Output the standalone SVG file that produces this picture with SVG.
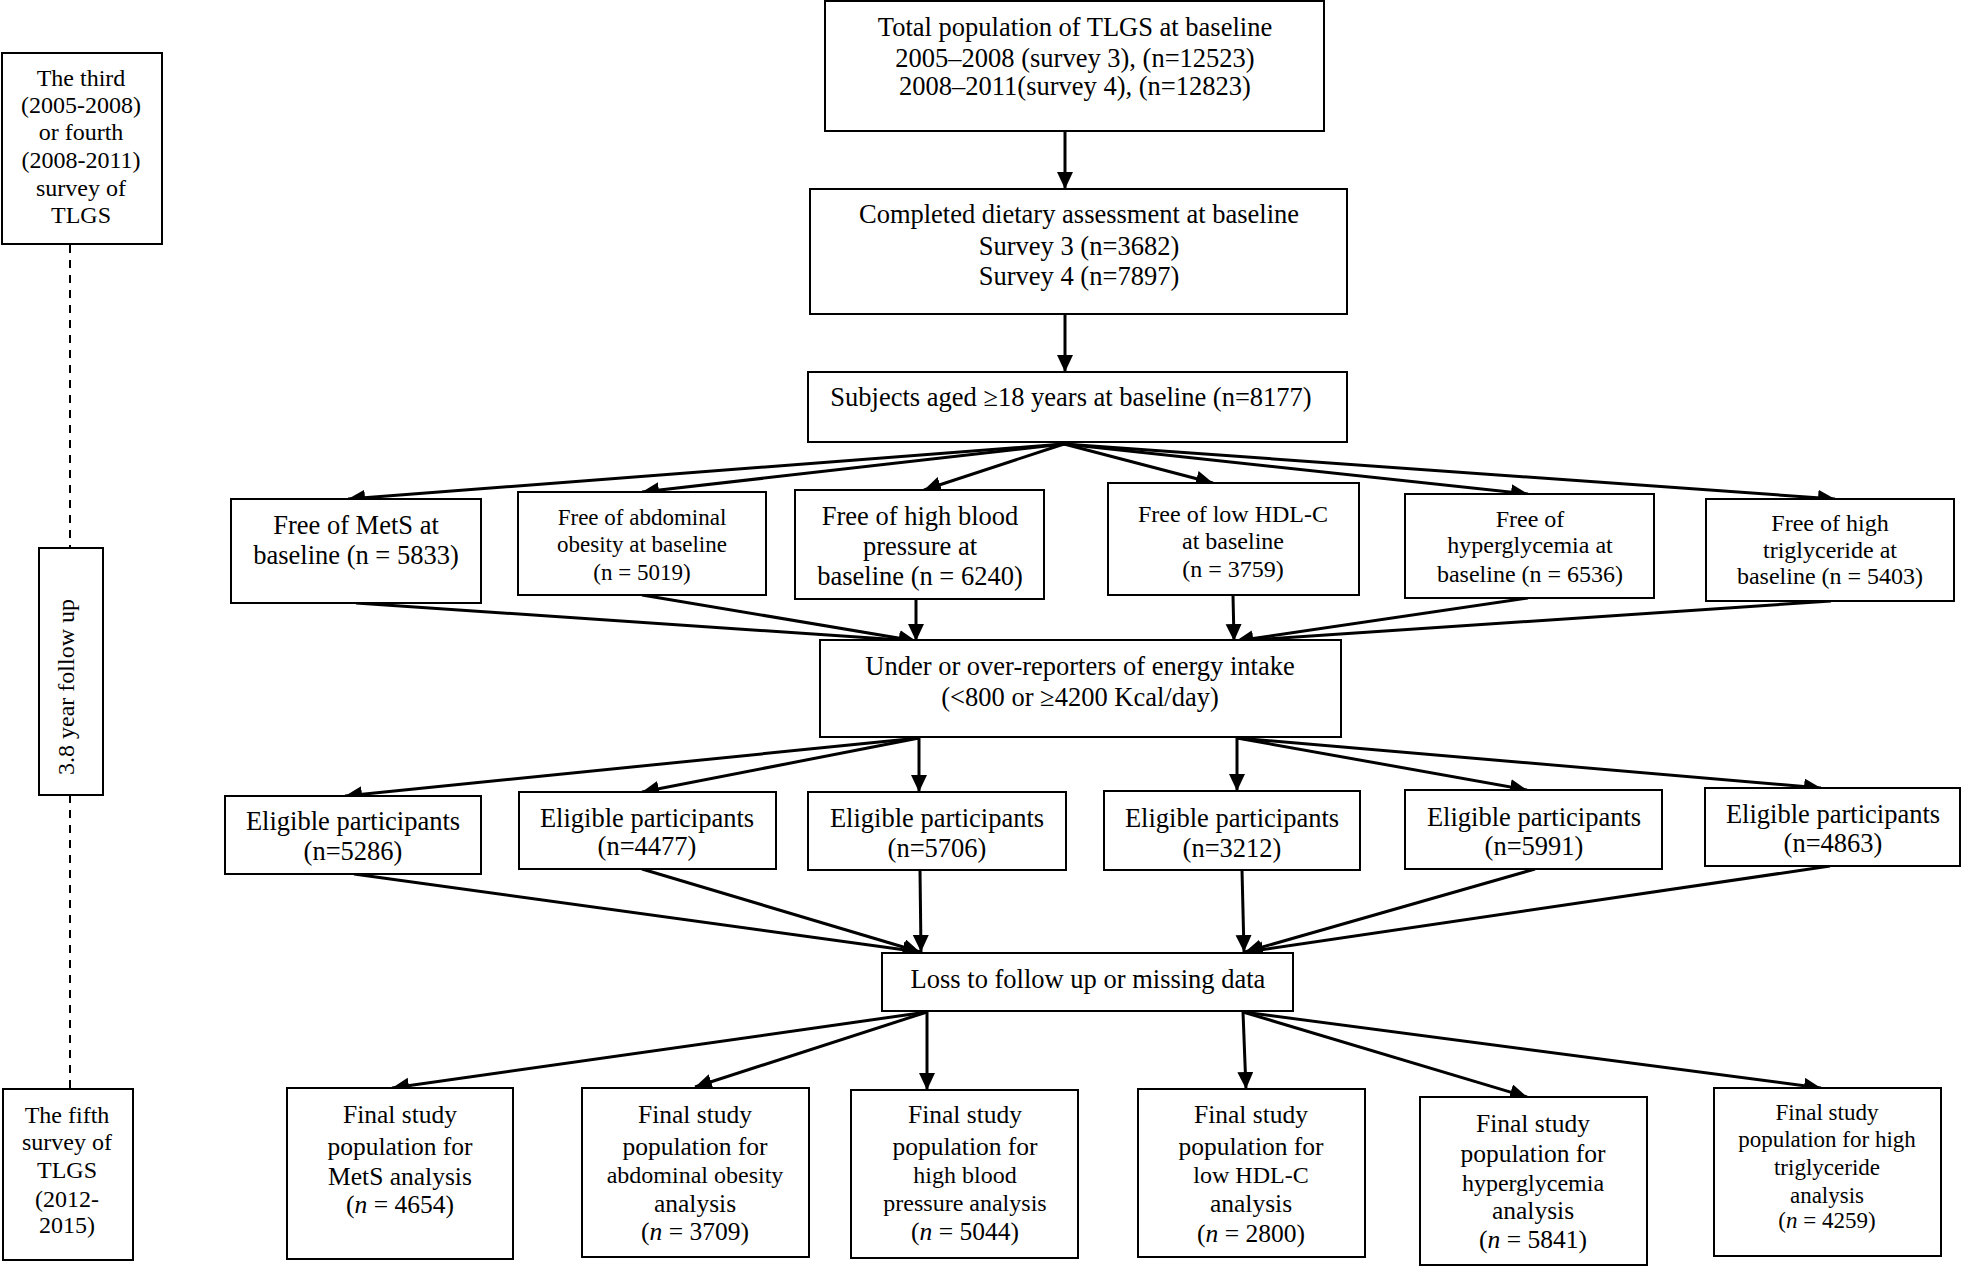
<svg xmlns="http://www.w3.org/2000/svg" width="1961" height="1266" viewBox="0 0 1961 1266">
<style>
  .box { fill: #fff; stroke: #000; stroke-width: 2; }
  text { font-family: "Liberation Serif", "Times New Roman", serif; fill: #000; text-anchor: middle; }
  .t26 { font-size: 26.5px; }
  .t25 { font-size: 25.5px; }
  .t24 { font-size: 24px; }
  .t23 { font-size: 23px; }
  .conn line { stroke: #000; stroke-width: 3; marker-end: url(#ah); }
  .dash { stroke: #000; stroke-width: 2; stroke-dasharray: 8 7; }
  .it { font-style: italic; }
</style>
<defs>
  <marker id="ah" markerUnits="userSpaceOnUse" markerWidth="20" markerHeight="18" refX="17" refY="8" orient="auto">
    <path d="M0,0 L17,8 L0,16 z" fill="#000"/>
  </marker>
</defs>
<rect width="1961" height="1266" fill="#fff"/>

<!-- timeline -->
<g id="timeline">
  <line class="dash" x1="70" y1="245" x2="70" y2="548"/>
  <line class="dash" x1="70" y1="795" x2="70" y2="1089"/>
</g>
<g id="survey34">
  <rect class="box" x="2" y="53" width="160" height="191"/>
  <text class="t24" x="81" y="86">The third</text>
  <text class="t24" x="81" y="113">(2005-2008)</text>
  <text class="t24" x="81" y="140">or fourth</text>
  <text class="t24" x="81" y="168">(2008-2011)</text>
  <text class="t24" x="81" y="196">survey of</text>
  <text class="t24" x="81" y="223">TLGS</text>
</g>
<g id="followup">
  <rect class="box" x="39" y="548" width="64" height="247"/>
  <text class="t24" transform="translate(74,687) rotate(-90)">3.8 year follow up</text>
</g>
<g id="survey5">
  <rect class="box" x="3" y="1089" width="130" height="171"/>
  <text class="t24" x="67" y="1123">The fifth</text>
  <text class="t24" x="67" y="1150">survey of</text>
  <text class="t24" x="67" y="1178">TLGS</text>
  <text class="t24" x="67" y="1207">(2012-</text>
  <text class="t24" x="67" y="1233">2015)</text>
</g>

<!-- connectors -->
<g id="connectors" class="conn">
  <line x1="1065" y1="131" x2="1065" y2="189"/>
  <line x1="1065" y1="314" x2="1065" y2="372"/>
  <!-- fan to free-of row -->
  <line x1="1064" y1="444" x2="348" y2="499"/>
  <line x1="1064" y1="444" x2="642" y2="492"/>
  <line x1="1064" y1="444" x2="924" y2="490"/>
  <line x1="1064" y1="444" x2="1213" y2="483"/>
  <line x1="1064" y1="444" x2="1528" y2="494"/>
  <line x1="1064" y1="444" x2="1835" y2="499"/>
  <!-- converge to energy -->
  <line x1="356" y1="603" x2="916" y2="641"/>
  <line x1="642" y1="595" x2="916" y2="641"/>
  <line x1="916" y1="599" x2="916" y2="641"/>
  <line x1="1233" y1="595" x2="1234" y2="641"/>
  <line x1="1528" y1="598" x2="1236" y2="641"/>
  <line x1="1831" y1="601" x2="1236" y2="641"/>
  <!-- fan to eligible -->
  <line x1="919" y1="738" x2="345" y2="796"/>
  <line x1="919" y1="738" x2="642" y2="792"/>
  <line x1="919" y1="738" x2="919" y2="792"/>
  <line x1="1237" y1="738" x2="1237" y2="791"/>
  <line x1="1237" y1="738" x2="1527" y2="790"/>
  <line x1="1237" y1="738" x2="1821" y2="788"/>
  <!-- converge to loss -->
  <line x1="354" y1="874" x2="920" y2="952"/>
  <line x1="642" y1="869" x2="920" y2="952"/>
  <line x1="920" y1="870" x2="921" y2="952"/>
  <line x1="1242" y1="870" x2="1244" y2="952"/>
  <line x1="1535" y1="869" x2="1245" y2="952"/>
  <line x1="1830" y1="866" x2="1246" y2="952"/>
  <!-- fan to final -->
  <line x1="927" y1="1012" x2="392" y2="1088"/>
  <line x1="927" y1="1012" x2="695" y2="1087"/>
  <line x1="927" y1="1012" x2="927" y2="1090"/>
  <line x1="1243" y1="1012" x2="1246" y2="1089"/>
  <line x1="1243" y1="1012" x2="1527" y2="1097"/>
  <line x1="1243" y1="1012" x2="1821" y2="1088"/>
</g>

<!-- main column -->
<g id="total">
  <rect class="box" x="825" y="1" width="499" height="130"/>
  <text class="t26" x="1075" y="36">Total population of TLGS at baseline</text>
  <text class="t26" x="1075" y="67">2005–2008 (survey 3), (n=12523)</text>
  <text class="t26" x="1075" y="95">2008–2011(survey 4), (n=12823)</text>
</g>
<g id="dietary">
  <rect class="box" x="810" y="189" width="537" height="125"/>
  <text class="t26" x="1079" y="223">Completed dietary assessment at baseline</text>
  <text class="t26" x="1079" y="255">Survey 3 (n=3682)</text>
  <text class="t26" x="1079" y="285">Survey 4 (n=7897)</text>
</g>
<g id="aged">
  <rect class="box" x="808" y="372" width="539" height="70"/>
  <text class="t26" x="1071" y="406">Subjects aged ≥18 years at baseline (n=8177)</text>
</g>

<!-- free-of row -->
<g id="free-mets">
  <rect class="box" x="231" y="499" width="250" height="104"/>
  <text class="t26" x="356" y="534">Free of MetS at</text>
  <text class="t26" x="356" y="564">baseline (n = 5833)</text>
</g>
<g id="free-abd">
  <rect class="box" x="518" y="492" width="248" height="103"/>
  <text class="t23" x="642" y="525">Free of abdominal</text>
  <text class="t23" x="642" y="552">obesity at baseline</text>
  <text class="t23" x="642" y="580">(n = 5019)</text>
</g>
<g id="free-bp">
  <rect class="box" x="795" y="490" width="249" height="109"/>
  <text class="t26" x="920" y="525">Free of high blood</text>
  <text class="t26" x="920" y="555">pressure at</text>
  <text class="t26" x="920" y="585">baseline (n = 6240)</text>
</g>
<g id="free-hdl">
  <rect class="box" x="1108" y="483" width="251" height="112"/>
  <text class="t24" x="1233" y="522">Free of low HDL-C</text>
  <text class="t24" x="1233" y="549">at baseline</text>
  <text class="t24" x="1233" y="577">(n = 3759)</text>
</g>
<g id="free-hyper">
  <rect class="box" x="1405" y="494" width="249" height="104"/>
  <text class="t24" x="1530" y="527">Free of</text>
  <text class="t24" x="1530" y="553">hyperglycemia at</text>
  <text class="t24" x="1530" y="582">baseline (n = 6536)</text>
</g>
<g id="free-tg">
  <rect class="box" x="1706" y="499" width="248" height="102"/>
  <text class="t24" x="1830" y="531">Free of high</text>
  <text class="t24" x="1830" y="558">triglyceride at</text>
  <text class="t24" x="1830" y="584">baseline (n = 5403)</text>
</g>

<g id="energy">
  <rect class="box" x="820" y="640" width="521" height="97"/>
  <text class="t26" x="1080" y="675">Under or over-reporters of energy intake</text>
  <text class="t26" x="1080" y="706">(&lt;800 or ≥4200 Kcal/day)</text>
</g>

<!-- eligible row -->
<g id="elig-mets">
  <rect class="box" x="225" y="796" width="256" height="78"/>
  <text class="t26" x="353" y="830">Eligible participants</text>
  <text class="t26" x="353" y="860">(n=5286)</text>
</g>
<g id="elig-abd">
  <rect class="box" x="519" y="792" width="257" height="77"/>
  <text class="t26" x="647" y="827">Eligible participants</text>
  <text class="t26" x="647" y="855">(n=4477)</text>
</g>
<g id="elig-bp">
  <rect class="box" x="808" y="792" width="258" height="78"/>
  <text class="t26" x="937" y="827">Eligible participants</text>
  <text class="t26" x="937" y="857">(n=5706)</text>
</g>
<g id="elig-hdl">
  <rect class="box" x="1104" y="791" width="256" height="79"/>
  <text class="t26" x="1232" y="827">Eligible participants</text>
  <text class="t26" x="1232" y="857">(n=3212)</text>
</g>
<g id="elig-hyper">
  <rect class="box" x="1405" y="790" width="257" height="79"/>
  <text class="t26" x="1534" y="826">Eligible participants</text>
  <text class="t26" x="1534" y="855">(n=5991)</text>
</g>
<g id="elig-tg">
  <rect class="box" x="1705" y="788" width="255" height="78"/>
  <text class="t26" x="1833" y="823">Eligible participants</text>
  <text class="t26" x="1833" y="852">(n=4863)</text>
</g>

<g id="loss">
  <rect class="box" x="882" y="953" width="411" height="58"/>
  <text class="t26" x="1088" y="988">Loss to follow up or missing data</text>
</g>

<!-- final row -->
<g id="final-mets">
  <rect class="box" x="287" y="1088" width="226" height="171"/>
  <text class="t25" x="400" y="1123">Final study</text>
  <text class="t25" x="400" y="1155">population for</text>
  <text class="t25" x="400" y="1185">MetS analysis</text>
  <text class="t25" x="400" y="1213">(<tspan class="it">n</tspan> = 4654)</text>
</g>
<g id="final-abd">
  <rect class="box" x="582" y="1088" width="227" height="169"/>
  <text class="t25" x="695" y="1123">Final study</text>
  <text class="t25" x="695" y="1155">population for</text>
  <text class="t24" x="695" y="1183">abdominal obesity</text>
  <text class="t25" x="695" y="1212">analysis</text>
  <text class="t25" x="695" y="1240">(<tspan class="it">n</tspan> = 3709)</text>
</g>
<g id="final-bp">
  <rect class="box" x="851" y="1090" width="227" height="168"/>
  <text class="t25" x="965" y="1123">Final study</text>
  <text class="t25" x="965" y="1155">population for</text>
  <text class="t24" x="965" y="1183">high blood</text>
  <text class="t24" x="965" y="1211">pressure analysis</text>
  <text class="t25" x="965" y="1240">(<tspan class="it">n</tspan> = 5044)</text>
</g>
<g id="final-hdl">
  <rect class="box" x="1138" y="1089" width="227" height="168"/>
  <text class="t25" x="1251" y="1123">Final study</text>
  <text class="t25" x="1251" y="1155">population for</text>
  <text class="t24" x="1251" y="1183">low HDL-C</text>
  <text class="t25" x="1251" y="1212">analysis</text>
  <text class="t25" x="1251" y="1242">(<tspan class="it">n</tspan> = 2800)</text>
</g>
<g id="final-hyper">
  <rect class="box" x="1420" y="1097" width="227" height="168"/>
  <text class="t25" x="1533" y="1132">Final study</text>
  <text class="t25" x="1533" y="1162">population for</text>
  <text class="t24" x="1533" y="1191">hyperglycemia</text>
  <text class="t25" x="1533" y="1219">analysis</text>
  <text class="t25" x="1533" y="1248">(<tspan class="it">n</tspan> = 5841)</text>
</g>
<g id="final-tg">
  <rect class="box" x="1714" y="1088" width="227" height="168"/>
  <text class="t23" x="1827" y="1120">Final study</text>
  <text class="t23" x="1827" y="1147">population for high</text>
  <text class="t23" x="1827" y="1175">triglyceride</text>
  <text class="t23" x="1827" y="1203">analysis</text>
  <text class="t23" x="1827" y="1228">(<tspan class="it">n</tspan> = 4259)</text>
</g>
</svg>
